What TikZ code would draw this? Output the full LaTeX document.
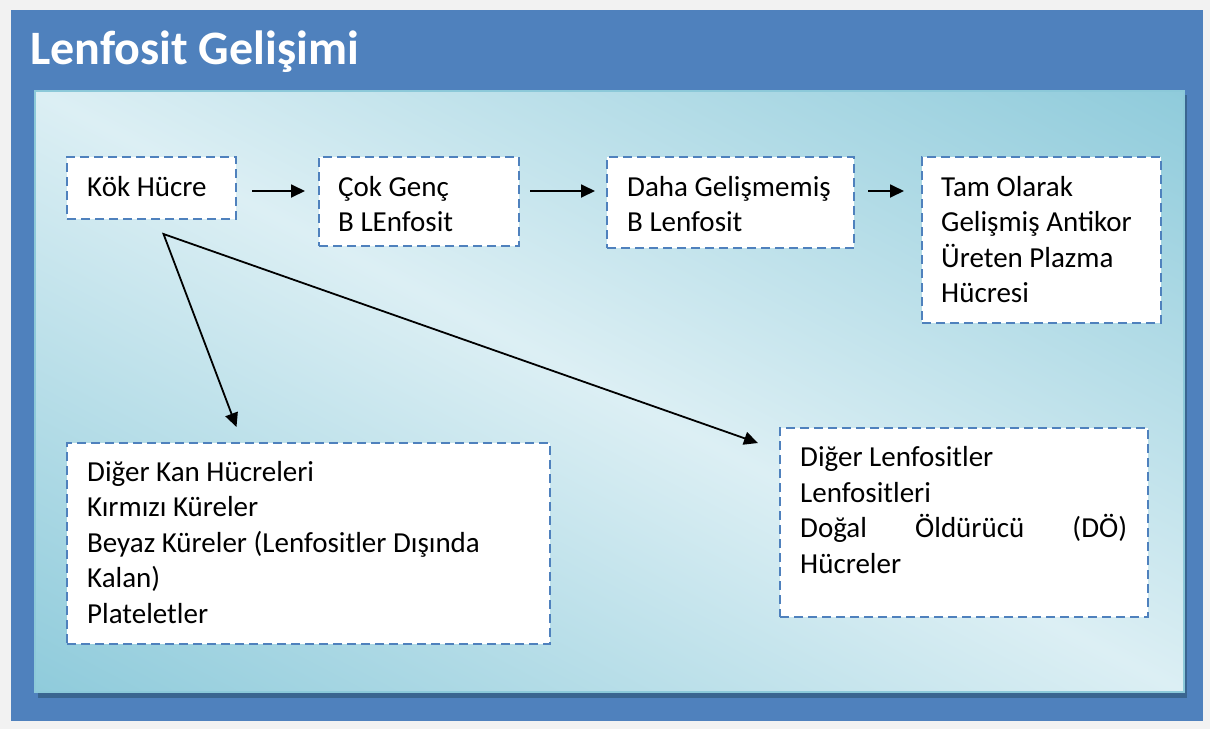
\documentclass[tikz,border=0pt]{standalone}
\usepackage{fontspec}
\setmainfont{Carlito}
\usetikzlibrary{arrows.meta,calc}
\definecolor{frameblue}{HTML}{4F81BD}
\definecolor{pagebg}{HTML}{F2F2F2}
\definecolor{shadowblue}{HTML}{3A6590}
\definecolor{panelline}{HTML}{8CC9D9}
\definecolor{paneldark}{HTML}{8FCBDB}
\definecolor{panellight}{HTML}{DCEFF4}
\definecolor{dashblue}{HTML}{4F81BD}
\begin{document}
\begin{tikzpicture}[x=1pt,y=-1pt,
  dbox/.style={draw=dashblue, line width=2.6pt, dash pattern=on 9pt off 5pt, fill=white, rectangle, anchor=north west, inner sep=0pt, outer sep=0pt},
  txt/.style={anchor=base west, inner sep=0pt, font=\fontsize{29}{35}\selectfont},
  arr/.style={line width=1.8pt, -{Triangle[length=14pt,width=13pt]}},
  arrboth/.style={line width=1.8pt, miter limit=20, {Triangle[length=14pt,width=13pt]}-{Triangle[length=14pt,width=13pt]}}]

\useasboundingbox (0,0) rectangle (1210,729);
\fill[pagebg] (0,0) rectangle (1210,729);
\fill[frameblue] (11,10) rectangle (1203,721);
\fill[shadowblue] (38,95) rectangle (1187,698);
% gradient panel
\begin{scope}[y=1pt]
  \begin{scope}
    \clip (35,-91) rectangle (1184,-692);
    \begin{scope}[transform canvas={rotate around={-27.6:(609.5,-391.5)}}]
      \shade[top color=paneldark, bottom color=paneldark, middle color=panellight]
        (-100,-924.5) rectangle (1320,141.5);
    \end{scope}
  \end{scope}
  \draw[panelline, line width=2pt] (35,-91) rectangle (1184,-692);
\end{scope}

\node[anchor=base west, inner sep=0pt, text=white, font=\bfseries\fontsize{48}{48}\selectfont] (title) at (30,64) {Lenfosit Gelişimi};

% boxes
\node[dbox, minimum width=169, minimum height=62] (kok) at (67,157) {};
\node[dbox, minimum width=200, minimum height=89] (cok) at (319,157) {};
\node[dbox, minimum width=247, minimum height=91] (daha) at (607,157) {};
\node[dbox, minimum width=239, minimum height=166] (tam) at (922,157) {};
\node[dbox, minimum width=483, minimum height=201] (kan) at (67,443) {};
\node[dbox, minimum width=368, minimum height=189] (lenf) at (780,428) {};

% texts
\node[txt] (t1) at (87,196) {Kök Hücre};
\node[txt] (t2a) at (338,196) {Çok Genç};
\node[txt] (t2b) at (338,231.6) {B LEnfosit};
\node[txt] (t3a) at (627,196) {Daha Gelişmemiş};
\node[txt] (t3b) at (627,231.6) {B Lenfosit};
\node[txt] (t4a) at (941,196) {Tam Olarak};
\node[txt] (t4b) at (941,231.6) {Gelişmiş Antikor};
\node[txt] (t4c) at (941,267.2) {Üreten Plazma};
\node[txt] (t4d) at (941,302.8) {Hücresi};
\node[txt] (t5a) at (87,481) {Diğer Kan Hücreleri};
\node[txt] (t5b) at (87,516.6) {Kırmızı Küreler};
\node[txt] (t5c) at (87,552.2) {Beyaz Küreler (Lenfositler Dışında};
\node[txt] (t5d) at (87,587.8) {Kalan)};
\node[txt] (t5e) at (87,623.4) {Plateletler};
\node[txt] (t6a) at (800,466.7) {Diğer Lenfositler};
\node[txt] (t6b) at (800,502.3) {Lenfositleri};
\node[txt] (t6c) at (800,537.9) {\hbox to 327pt{Doğal\hfill Öldürücü\hfill (DÖ)}};
\node[txt] (t6d) at (800,573.5) {Hücreler};

% connectors
\draw[arr] ($(kok.east)+(16,3)$) -- ($(cok.west)+(-14,-10.5)$);
\draw[arr] ($(cok.east)+(11,-10.5)$) -- ($(daha.west)+(-12,-11.5)$);
\draw[arr] ($(daha.east)+(14,-11.5)$) -- ($(tam.west)+(-18,-49)$);
\coordinate (fork) at ($(kok.south)+(12,15)$);
\coordinate (e1) at ($(kan.north)+(-72,-16)$);
\coordinate (e2) at ($(lenf.north west)+(-22,15)$);
\draw[arrboth] (e1) -- (fork) -- (e2);
\end{tikzpicture}
\end{document}
